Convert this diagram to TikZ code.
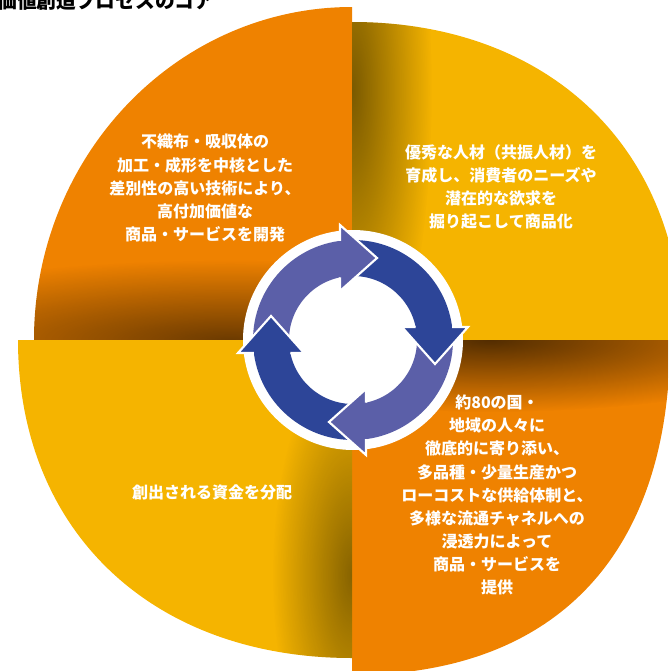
\documentclass[tikz,border=0pt]{standalone}
\usepackage{fontspec}
\newfontfamily\jp{Noto Sans CJK JP}
\usetikzlibrary{fadings}
\definecolor{qorange}{HTML}{EF8200}
\definecolor{qyellow}{HTML}{F5B400}
\definecolor{arlight}{HTML}{5B5FA8}
\definecolor{ardark}{HTML}{2D4598}
\tikzfading[name=blob, inner color=transparent!0, outer color=transparent!100]
\begin{document}
\begin{tikzpicture}[x=0.75pt,y=-0.75pt,
  txt/.style={font=\jp\bfseries\fontsize{12pt}{17.3pt}\selectfont, text=white, align=center, inner sep=0pt},
  shadowblob/.style={black, path fading=blob}]
\useasboundingbox (0,0) rectangle (668,671);
\clip (0,0) rectangle (668,671);

% top-left quadrant
\begin{scope}
  \clip (352,340) -- (34,340) .. controls (34,156.1) and (176.4,7) .. (352,7) -- cycle;
  \fill[qorange] (0,0) rectangle (668,671);
  \fill[shadowblob, opacity=0.55] (230,340) ellipse [x radius=420, y radius=80];
\end{scope}
% top-right quadrant
\begin{scope}
  \clip (352,340) -- (352,22) .. controls (550,22) and (682,149.2) .. (682,340) -- cycle;
  \fill[qyellow] (0,0) rectangle (668,671);
  \fill[shadowblob, opacity=0.5] (352,90) ellipse [x radius=80, y radius=320];
\end{scope}
% bottom-right quadrant
\begin{scope}
  \clip (352,340) -- (670,340) .. controls (670,554.4) and (555.5,675) .. (352,675) -- cycle;
  \fill[qorange] (0,0) rectangle (668,671);
  \fill[shadowblob, opacity=0.65] (490,340) ellipse [x radius=340, y radius=72];
\end{scope}
% bottom-left quadrant
\begin{scope}
  \clip (352,340) -- (18,340) .. controls (18,530.8) and (151.6,658) .. (352,658) -- cycle;
  \fill[qyellow] (0,0) rectangle (668,671);
  \fill[shadowblob, opacity=0.45] (352,575) ellipse [x radius=80, y radius=220];
\end{scope}

% title (cut by the top edge)
\node[anchor=base west, font=\jp\bfseries\fontsize{14.8pt}{16pt}\selectfont, inner sep=0pt] (title) at (-3,8.5) {価値創造プロセスのコア};

% central white disk
\fill[white] (353,340) circle [radius=110];

% cycle arrows
\begin{scope}[shift={(353,340)}, x=0.75pt, y=0.75pt]
  \foreach \i/\col in {0/arlight,1/ardark,2/arlight,3/ardark}{
    \begin{scope}[rotate=-90*\i]
      \fill[\col] (184:64) arc[start angle=184, end angle=95, radius=64] -- (95:100) arc[start angle=95, end angle=184, radius=100] -- cycle;
    \end{scope}
  }
  \foreach \i/\col in {0/arlight,1/ardark,2/arlight,3/ardark}{
    \begin{scope}[rotate=-90*\i]
      \fill[\col] (-12.98,48.98) -- (24.02,81.98) -- (-12.98,114.98) -- cycle;
      \draw[white, line width=1.6, line join=miter] (-12.98,99.15) -- (-12.98,114.98) -- (24.02,81.98) -- (-12.98,48.98) -- (-12.98,62.67);
    \end{scope}
  }
\end{scope}

% texts
\node[txt] (tl) at (205,188) {不織布・吸収体の\\加工・成形を中核とした\\差別性の高い技術により、\\高付加価値な\\商品・サービスを開発};
\node[txt] (tr) at (501,187) {優秀な人材（共振人材）を\\育成し、消費者のニーズや\\潜在的な欲求を\\掘り起こして商品化};
\node[txt] (bl) at (212,492) {創出される資金を分配};
\node[txt] (br) at (497,495) {約80の国・\\地域の人々に\\徹底的に寄り添い、\\多品種・少量生産かつ\\ローコストな供給体制と、\\多様な流通チャネルへの\\浸透力によって\\商品・サービスを\\提供};
\end{tikzpicture}
\end{document}
